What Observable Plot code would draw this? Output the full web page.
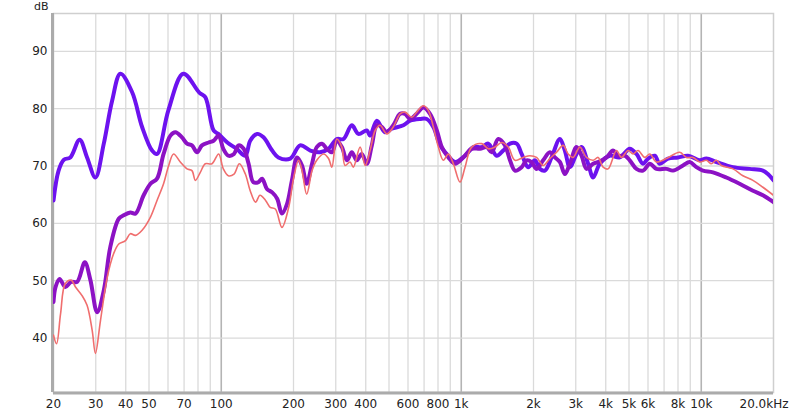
<!DOCTYPE html>
<html><head><meta charset="utf-8">
<script src="https://cdn.jsdelivr.net/npm/d3@7"></script>
<script src="https://cdn.jsdelivr.net/npm/@observablehq/plot@0.6"></script>
<style>body{margin:0;background:#fff;} svg{display:block;}</style>
</head><body><div id="chart"></div>
<script>
// Violet series (thick)
const violetFreq = [20,21,22.1,23.5,25.7,27.6,29.9,32.4,35.1,38,42.5,46.8,51.5,54,60.2,69.5,81,85.8,92.9,97.2,106,116,126,132,141,150,163,173,194,213,235,258,280,303,323,350,373,404,417,445,481,513,574,612,673,718,765,816,870,942,1037,1122,1217,1296,1405,1496,1596,1701,1785,1901,2027,2126,2230,2378,2576,2702,2834,3022,3171,3378,3544,3778,4159,4576,5036,5371,5722,6003,6401,6714,7270,8002,8806,9850,10504,11560,13556,15906,18060,18954,20000];
const violetDb   = [64,69.2,71.1,71.5,74.6,71.5,68,73.9,81.4,86.1,82.9,76.8,72.7,72.1,79.7,86.1,82.8,82,76.2,75.6,74.1,73,71.8,74.4,75.6,75,72.7,71.5,71.3,73.6,72.7,72.4,73,74.7,74.7,77.1,75.6,76.2,75.3,77.9,75.9,76.5,77.1,77.9,78.2,78.2,76.8,73.6,72.1,70.7,71.8,73.3,73.3,73.9,71.8,72.7,73.9,73.9,72.1,69.8,71,69.5,69.2,71.5,74.7,72.7,69.8,72.1,73.3,70.4,68,70.4,71.8,71.5,73,72.1,70.4,71.3,71.8,70.4,71.3,71.5,71.8,71,71.3,70.7,69.8,69.5,69.2,68.6,67.5];

// Purple series (thick)
const purpleFreq = [20,20.4,21.2,22.4,23.7,25.1,27,28.5,30.4,32.4,34.5,37.4,39.2,41.8,43.9,47.5,50.7,54,57.5,61.4,64.4,68.6,72,75.5,79.3,83.1,88.6,92.9,97.5,102,107,113,118,124,130,136,143,148,155,163,171,179,188,197,207,217,227,239,250,263,275,289,303,318,334,350,367,385,404,424,445,467,489,521,556,583,612,652,695,741,791,830,884,942,1020,1105,1197,1276,1339,1426,1521,1596,1674,1785,1872,1963,2060,2194,2340,2455,2576,2702,2834,3022,3171,3326,3544,3778,4028,4292,4502,4801,5036,5371,5722,6102,6506,7160,7628,8394,8950,9544,10168,11190,12722,14452,16418,18060,20000];
const purpleDb   = [46.3,48.9,50.3,48.9,49.8,49.8,53.2,50.1,44.5,48.3,55.9,60.8,61.4,61.9,61.7,64.9,66.9,67.8,72.1,75.3,75.9,75,73.9,73.6,72.4,73.6,74.1,74.4,75.3,73,71.8,72.1,73.6,73,70.4,67.2,67.2,67.8,66,65.4,64.3,61.7,63.4,67.5,71.5,70.1,66.9,70.4,73.3,73.9,73,72.4,74.4,73.3,71,72.4,71,72.1,70.4,73.6,77.1,76.8,75.9,77.1,79.1,79.1,78.2,79.1,80.2,79.1,76.2,73.3,71.5,70.4,71.5,73,73,73.3,72.4,74.7,73.6,71,69.2,69.8,71,70.7,69.5,71,72.4,71.5,70.7,68.6,70.4,73.3,71.8,69.5,70.4,70.8,71.5,72.7,71.8,71.8,71,69.5,69.2,70.4,69.5,69.5,69.2,70.1,70.7,69.8,69.2,68.9,68,66.9,65.7,64.9,63.7];

// Salmon series (thin)
const salmonFreq = [20,20.6,21.4,22.4,23.7,24.7,26.3,27.6,29,29.9,31.4,33.5,35.6,37.4,39.9,41.8,43.9,46.8,50.7,54,57.5,60.4,63.3,67.5,72,75.5,78,81.8,85.8,91.5,97.5,102,107,113,119,126,132,139,145,153,160,168,179,191,200,210,217,227,239,250,267,280,289,303,318,328,344,355,379,398,417,438,459,489,521,556,583,622,652,695,729,765,803,842,884,927,988,1037,1105,1217,1296,1382,1474,1570,1674,1813,1932,2060,2194,2340,2495,2658,2789,2926,3120,3326,3544,3718,3900,4090,4434,4652,4956,5198,5454,5816,6102,6506,7160,8134,8673,9238,9850,10504,11018,11560,12128,13556,14916,16418,18060,20000];
const salmonDb   = [40.5,39,44.2,49.5,50.1,48.9,47.4,45.7,41.3,37.3,43.1,50.6,54.7,56.4,57,58.2,57.9,58.8,61.1,64,66.9,70.1,72.1,70.7,69.5,69.2,67.5,68.9,70.4,70.4,72.1,69.5,68.3,68.6,70.4,68.6,65.7,63.7,64.9,64,62.8,62.5,59.3,62.8,67.8,71,69.2,65.1,69.2,71,72.1,71.3,69.8,74.7,73.3,70.1,70.7,69.8,73.3,70.1,72.7,76.2,77.1,75.6,76.8,79.1,79.4,78.5,79.4,80.5,79.7,76.8,73.3,71,72.1,70.4,67.2,69.8,73.3,73.9,73,73.3,74.1,73.3,71,71.5,71.8,71.5,70.1,71.3,72.4,73.6,72.1,71.5,73.3,71.5,71,71.5,69.8,69.5,72.7,71.5,72.7,72.1,72.7,71.5,72.1,70.7,71.3,72.4,71.5,71.5,70.7,71,70.4,71,70.1,69.5,68.3,67.5,66.3,64.9];

// Axes / ticks
const xTickValues = [20,30,40,50,70,100,200,300,400,600,800,1000,2000,3000,4000,5000,6000,8000,10000,20000];
const xTickLabels = ["20","30","40","50","70","100","200","300","400","600","800","1k","2k","3k","4k","5k","6k","8k","10k","20.0kHz"];
const gridMinor = [30,40,50,60,70,80,90,200,300,400,500,600,700,800,900,2000,3000,4000,5000,6000,7000,8000,9000];
const gridMajor = [100,1000,10000];
const yTicks = [40,50,60,70,80,90];
const yLabel = "dB";

const rows = (fs, ds) => fs.map((f, i) => ({f, db: ds[i]}));
const violet = rows(violetFreq, violetDb);
const purple = rows(purpleFreq, purpleDb);
const salmon = rows(salmonFreq, salmonDb);
const xLabelRows = xTickValues.map((v, i) => ({v, label: xTickLabels[i], last: i === xTickValues.length - 1}));

const lineOpts = {x: "f", y: "db", curve: "catmull-rom", strokeLinejoin: "round", strokeLinecap: "round", clip: true};

const chart = Plot.plot({
  width: 800, height: 412,
  marginLeft: 53, marginRight: 27, marginTop: 13, marginBottom: 20,
  style: {fontFamily: "'DejaVu Sans', sans-serif", fontSize: "12px", background: "#fff", overflow: "visible", color: "#222"},
  x: {type: "log", domain: [20, 20000], axis: null},
  y: {domain: [30.5, 96.6], axis: null},
  marks: [
    Plot.ruleX(gridMinor, {stroke: "#dadada", strokeWidth: 1.3}),
    Plot.ruleX(gridMajor, {stroke: "#b4b4b4", strokeWidth: 1.6}),
    Plot.ruleY(yTicks, {stroke: "#dadada", strokeWidth: 1.3}),
    Plot.frame({stroke: "#cfcfcf", strokeWidth: 1.5}),
    Plot.ruleX([20], {stroke: "#ababab", strokeWidth: 3, dx: -1}),
    Plot.ruleY([30.5], {stroke: "#ababab", strokeWidth: 3, dy: 0.5}),
    Plot.line(violet, {...lineOpts, stroke: "#6d12ef", strokeWidth: 4}),
    Plot.line(purple, {...lineOpts, stroke: "#8c12c4", strokeWidth: 4}),
    Plot.line(salmon, {...lineOpts, stroke: "#f06e6e", strokeWidth: 1.6}),
    Plot.text(xLabelRows.filter(d => !d.last), {x: "v", text: "label", frameAnchor: "bottom", dy: 12, lineAnchor: "middle", fill: "#222"}),
    Plot.text(xLabelRows.filter(d => d.last), {x: "v", text: "label", frameAnchor: "bottom", dy: 12, dx: 15, textAnchor: "end", lineAnchor: "middle", fill: "#222"}),
    Plot.text(yTicks, {y: d => d, text: d => String(d), frameAnchor: "left", textAnchor: "end", dx: -6, lineAnchor: "middle", fill: "#222"}),
    Plot.text([yLabel], {text: d => d, frameAnchor: "top-left", textAnchor: "end", dx: -5, dy: -11, lineAnchor: "top", fontSize: 11, fill: "#222"})
  ]
});
document.getElementById("chart").appendChild(chart);
</script>
</body></html>
